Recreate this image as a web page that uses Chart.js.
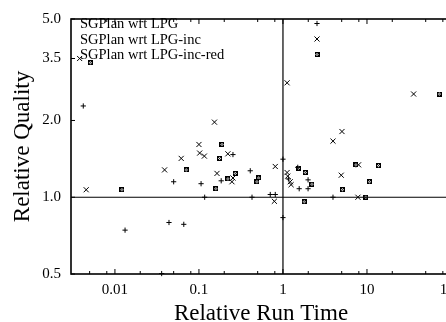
<!DOCTYPE html>
<html>
<head>
<meta charset="utf-8">
<script src="https://cdn.jsdelivr.net/npm/chart.js@4.4.1/dist/chart.umd.min.js"></script>
<style>
html, body { margin: 0; padding: 0; background: #fff; overflow: hidden; }
#wrap { width: 446px; height: 322px; overflow: hidden; }
canvas { display: block; }
</style>
</head>
<body>
<div id="wrap"><canvas id="c" width="470" height="322" style="width:470px;height:322px"></canvas></div>
<script>
// Series names
const seriesNames = ['SGPlan wrt LPG', 'SGPlan wrt LPG-inc', 'SGPlan wrt LPG-inc-red'];

// SGPlan wrt LPG: relative run time / relative quality
const lpgTime    = [0.0042, 0.0132, 0.036, 0.044, 0.05, 0.066, 0.106, 0.117, 0.184, 0.254, 0.408, 0.428, 0.706, 0.81, 1.0, 1.0, 1.16, 1.5, 1.56, 1.99, 1.99, 3.94];
const lpgQuality = [2.28, 0.743, 0.502, 0.796, 1.15, 0.783, 1.13, 1.0, 1.16, 1.47, 1.27, 1.0, 1.025, 1.025, 1.41, 0.832, 1.18, 1.31, 1.08, 1.17, 1.08, 1.0];

// SGPlan wrt LPG-inc
const lpgIncTime    = [0.0038, 0.00455, 0.039, 0.0615, 0.1, 0.102, 0.116, 0.153, 0.164, 0.221, 0.247, 0.254, 0.79, 0.81, 1.12, 1.12, 1.14, 1.22, 1.25, 3.94, 4.94, 5.04, 7.8, 7.94, 35.9];
const lpgIncQuality = [3.5, 1.07, 1.28, 1.42, 1.61, 1.49, 1.45, 1.97, 1.24, 1.48, 1.15, 1.19, 0.964, 1.32, 2.81, 1.25, 1.21, 1.15, 1.12, 1.66, 1.22, 1.81, 1.0, 1.34, 2.54];

// SGPlan wrt LPG-inc-red
const lpgIncRedTime    = [0.0051, 0.0121, 0.0706, 0.159, 0.176, 0.188, 0.221, 0.27, 0.49, 0.513, 1.53, 1.79, 1.84, 2.21, 5.1, 7.4, 9.7, 10.7, 13.7, 72.6];
const lpgIncRedQuality = [3.37, 1.07, 1.28, 1.08, 1.42, 1.61, 1.18, 1.24, 1.15, 1.19, 1.30, 0.96, 1.25, 1.125, 1.07, 1.34, 1.0, 1.15, 1.33, 2.54];

// Axis ticks
const xTickValues = [0.01, 0.1, 1, 10, 100];
const xTickLabels = ['0.01', '0.1', '1', '10', '100'];
const xMinorTicks = [0.005, 0.008, 0.02, 0.05, 0.08, 0.2, 0.5, 0.8, 2, 5, 8, 20, 50, 80];
const yTickValues = [0.5, 1.0, 2.0, 3.5, 5.0];
const yTickLabels = ['0.5', '1.0', '2.0', '3.5', '5.0'];

const SERIF = "'Liberation Serif', 'DejaVu Serif', serif";

const toPoints = (xs, ys) => xs.map((v, i) => ({ x: v, y: ys[i] }));

// Boxed asterisk marker for the third series
function boxStar() {
  const cv = document.createElement('canvas');
  cv.width = 5; cv.height = 5;
  const g = cv.getContext('2d');
  g.strokeStyle = '#000';
  g.lineWidth = 1;
  g.strokeRect(0.5, 0.5, 4, 4);
  g.beginPath();
  g.moveTo(0.5, 0.5); g.lineTo(4.5, 4.5);
  g.moveTo(4.5, 0.5); g.lineTo(0.5, 4.5);
  g.stroke();
  return cv;
}
const starStyle = boxStar();

const markers = [
  { pointStyle: 'cross', radius: 2.6, borderWidth: 1 },
  { pointStyle: 'crossRot', radius: 3.6, borderWidth: 1 },
  { pointStyle: starStyle, radius: 2.5, borderWidth: 1 }
];

function line(ctx, x0, y0, x1, y1) {
  ctx.beginPath(); ctx.moveTo(x0, y0); ctx.lineTo(x1, y1); ctx.stroke();
}

const framePlugin = {
  id: 'frame',
  beforeDatasetsDraw(chart) {
    const { ctx, chartArea: a, scales: { x, y } } = chart;
    ctx.save();
    ctx.strokeStyle = '#000';
    // reference lines at relative value 1
    ctx.lineWidth = 1.2;
    const x1 = x.getPixelForValue(1), y1 = y.getPixelForValue(1);
    line(ctx, x1, a.top, x1, a.bottom);
    line(ctx, a.left, y1, a.right, y1);
    // border
    ctx.lineWidth = 1.6;
    ctx.strokeRect(a.left, a.top, a.right - a.left, a.bottom - a.top);
    // inward ticks
    ctx.lineWidth = 1;
    xTickValues.forEach(v => {
      const p = x.getPixelForValue(v);
      line(ctx, p, a.bottom, p, a.bottom - 5);
      line(ctx, p, a.top, p, a.top + 5);
    });
    xMinorTicks.forEach(v => {
      const p = x.getPixelForValue(v);
      line(ctx, p, a.bottom, p, a.bottom - 3);
      line(ctx, p, a.top, p, a.top + 3);
    });
    yTickValues.forEach(v => {
      const p = y.getPixelForValue(v);
      line(ctx, a.left, p, a.left + 4, p);
      line(ctx, a.right, p, a.right - 4, p);
    });
    ctx.restore();
  },
  afterDatasetsDraw(chart) {
    const { ctx } = chart;
    ctx.save();
    ctx.fillStyle = '#000';
    ctx.strokeStyle = '#000';
    ctx.font = '14.5px ' + SERIF;
    ctx.textBaseline = 'middle';
    ctx.textAlign = 'left';
    const rows = [24.5, 40, 55.5];
    seriesNames.forEach((name, i) => {
      ctx.fillText(name, 80, rows[i]);
      const m = markers[i];
      Chart.helpers.drawPoint(ctx, { pointStyle: m.pointStyle, radius: m.radius, rotation: 0, borderWidth: m.borderWidth }, 317, rows[i] - 1);
    });
    ctx.restore();
  }
};

const datasets = [
  toPoints(lpgTime, lpgQuality),
  toPoints(lpgIncTime, lpgIncQuality),
  toPoints(lpgIncRedTime, lpgIncRedQuality)
].map((data, i) => ({
  label: seriesNames[i],
  data,
  pointStyle: markers[i].pointStyle,
  pointRadius: markers[i].radius,
  pointHoverRadius: markers[i].radius,
  pointBorderWidth: markers[i].borderWidth,
  borderColor: '#000',
  backgroundColor: '#000',
  showLine: false,
  clip: false
}));

new Chart(document.getElementById('c'), {
  type: 'scatter',
  data: { datasets },
  options: {
    responsive: false,
    devicePixelRatio: 1,
    animation: false,
    events: [],
    layout: { padding: { top: 12, right: 19, left: 0, bottom: 0 } },
    plugins: { legend: { display: false }, tooltip: { enabled: false } },
    scales: {
      x: {
        type: 'logarithmic',
        position: 'bottom',
        min: 0.003,
        max: 100,
        afterBuildTicks: s => { s.ticks = xTickValues.map(v => ({ value: v })); },
        afterFit: s => { s.height = 48; },
        grid: { display: false, drawTicks: false },
        border: { display: false },
        ticks: {
          autoSkip: false,
          maxRotation: 0,
          padding: 7,
          color: '#000',
          font: { family: SERIF, size: 15 },
          callback: (v) => { const i = xTickValues.indexOf(v); return i >= 0 ? xTickLabels[i] : ''; }
        },
        title: {
          display: true,
          text: 'Relative Run Time',
          color: '#000',
          font: { family: SERIF, size: 23, lineHeight: 1.2 },
          padding: { top: 0, bottom: -6 }
        }
      },
      y: {
        type: 'logarithmic',
        position: 'left',
        min: 0.5,
        max: 5,
        afterBuildTicks: s => { s.ticks = yTickValues.map(v => ({ value: v })); },
        afterFit: s => { s.width = 71; },
        grid: { display: false, drawTicks: false },
        border: { display: false },
        ticks: {
          autoSkip: false,
          padding: 10,
          color: '#000',
          font: { family: SERIF, size: 15 },
          callback: (v) => { const i = yTickValues.indexOf(v); return i >= 0 ? yTickLabels[i] : ''; }
        },
        title: {
          display: true,
          text: 'Relative Quality',
          color: '#000',
          font: { family: SERIF, size: 23, lineHeight: 1.2 },
          padding: { top: 9, bottom: 0 }
        }
      }
    }
  },
  plugins: [framePlugin]
});
</script>
</body>
</html>
